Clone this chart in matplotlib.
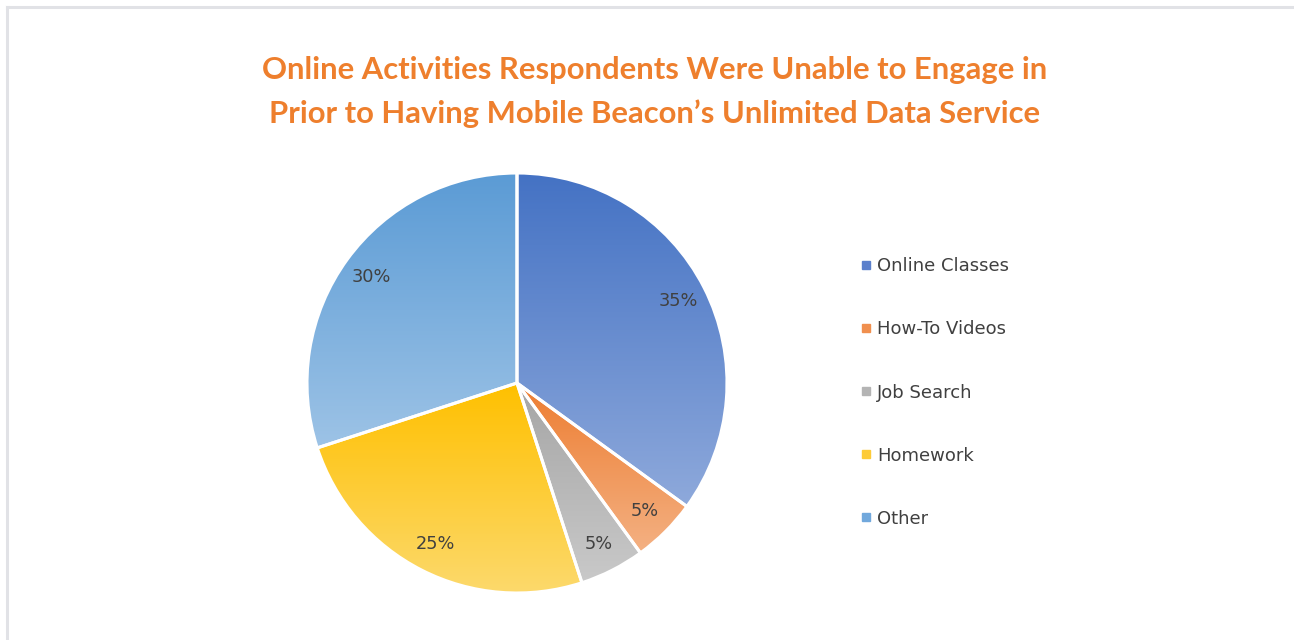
import numpy as np
import matplotlib
matplotlib.use("Agg")
import matplotlib.pyplot as plt
from matplotlib.colors import LinearSegmentedColormap
from matplotlib.lines import Line2D
from matplotlib.patches import Wedge

title = "Online Activities Respondents Were Unable to Engage in\nPrior to Having Mobile Beacon\u2019s Unlimited Data Service"
categories = ["Online Classes", "How-To Videos", "Job Search", "Homework", "Other"]
values = [35, 5, 5, 25, 30]
top_colors = ["#4472C4", "#ED7D31", "#A5A5A5", "#FFC000", "#5B9BD5"]
bottom_colors = ["#8EA9DB", "#F4B183", "#C9C9C9", "#FCD96C", "#9DC3E6"]
mid_colors = ["#5B80CC", "#F08F4E", "#B4B4B4", "#FDCB38", "#71A8DC"]

W, H = 1294, 640
fig = plt.figure(figsize=(W / 100, H / 100), dpi=100)
fig.patch.set_facecolor("white")

# frame border lines
border = "#E1E2E6"
fig.add_artist(Line2D([7 / W, 7 / W], [0, 1 - 7 / H], transform=fig.transFigure, color=border, lw=2.2))
fig.add_artist(Line2D([7 / W, 1], [1 - 7 / H, 1 - 7 / H], transform=fig.transFigure, color=border, lw=2.2))

fig.text(655 / W, 1 - 92 / H, title, ha="center", va="center", color="#EE7F2D",
         fontsize=22.3, fontweight="bold", family="Lato", linespacing=1.68)

cx, cy, r = 517, 383, 210
lim = 1.05
side = 2 * r * lim
ax = fig.add_axes([(cx - side / 2) / W, (H - cy - side / 2) / H, side / W, side / H])

wedges, texts, autotexts = ax.pie(values, colors=mid_colors, startangle=90, counterclock=False,
                                  autopct="%1.0f%%", pctdistance=0.86,
                                  wedgeprops=dict(linewidth=0),
                                  textprops=dict(color="#404040", fontsize=12.8, family="DejaVu Sans"))

for w, ct, cb in zip(wedges, top_colors, bottom_colors):
    ext = w.get_path().get_extents()
    cmap = LinearSegmentedColormap.from_list("g", [ct, cb])
    grad = np.linspace(0, 1, 256).reshape(-1, 1)
    im = ax.imshow(grad, cmap=cmap, extent=[ext.x0, ext.x1, ext.y0, ext.y1], origin="upper",
                   aspect="auto", zorder=1.5, interpolation="bilinear")
    im.set_clip_path(w)
    ax.add_patch(Wedge(w.center, w.r, w.theta1, w.theta2, facecolor="none",
                       edgecolor="white", linewidth=2.2, zorder=2))
ax.set_xlim(-lim, lim)
ax.set_ylim(-lim, lim)
ax.set_aspect("equal")
for t in autotexts:
    t.set_zorder(3)

handles = [Line2D([], [], marker="s", linestyle="none", markersize=6, markerfacecolor=c,
                  markeredgecolor=c) for c in mid_colors]
leg = fig.legend(handles, categories, loc="upper left", bbox_to_anchor=(853 / W, 1 - 250 / H),
                 frameon=False, labelspacing=2.5, handlelength=0.6,
                 handletextpad=0.35, borderaxespad=0, prop=dict(family="DejaVu Sans", size=13))
for t in leg.get_texts():
    t.set_color("#404040")

fig.savefig("out.png", dpi=100, facecolor="white")
